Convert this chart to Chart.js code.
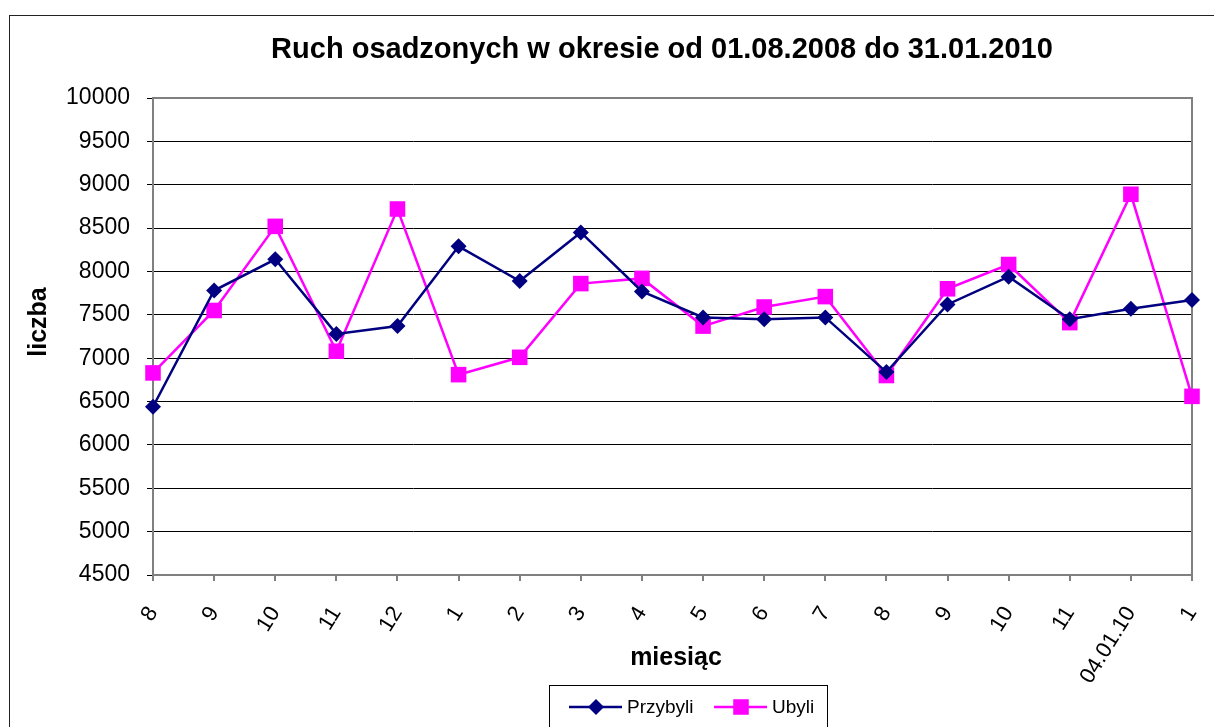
<!DOCTYPE html>
<html>
<head>
<meta charset="utf-8">
<script src="https://cdn.jsdelivr.net/npm/chart.js@4/dist/chart.umd.min.js"></script>
<style>
  body { margin: 0; background: #fff; }
  canvas { display: block; }
</style>
</head>
<body>
<canvas id="wykres" width="1214" height="727"></canvas>
<script>
// dane
const miesiace = ['8', '9', '10', '11', '12', '1', '2', '3', '4', '5', '6', '7', '8', '9', '10', '11', '04.01.10', '1'];
const przybyli = [6440, 7780, 8140, 7280, 7370, 8290, 7890, 8450, 7770, 7470, 7450, 7470, 6840, 7620, 7940, 7450, 7570, 7670];
const ubyli = [6830, 7550, 8520, 7080, 8720, 6810, 7010, 7860, 7920, 7370, 7590, 7710, 6800, 7800, 8080, 7410, 8890, 6560];
const yMin = 4500, yMax = 10000, yKrok = 500;

const tytul = 'Ruch osadzonych w okresie od 01.08.2008 do 31.01.2010';
const tytulY = 'liczba';
const tytulX = 'miesiąc';

const FONT = "'Liberation Sans', Arial, sans-serif";

// ramki, tytuly i legenda rysowane recznie (jak w Excelu)
const ozdoby = {
  id: 'ozdoby',
  beforeDraw(chart) {
    const ctx = chart.ctx;
    ctx.save();
    ctx.fillStyle = '#fff';
    ctx.fillRect(0, 0, chart.width, chart.height);
    ctx.strokeStyle = '#222';
    ctx.lineWidth = 1;
    ctx.strokeRect(9.5, 15.5, chart.width + 20, chart.height + 20);
    ctx.restore();
  },
  beforeDatasetsDraw(chart) {
    const ctx = chart.ctx;
    const { left, top, right, bottom } = chart.chartArea;
    ctx.save();
    ctx.strokeStyle = '#808080';
    ctx.lineWidth = 2;
    ctx.strokeRect(left, top, right - left, bottom - top);
    ctx.restore();
  },
  afterDraw(chart) {
    const ctx = chart.ctx;
    ctx.save();
    ctx.fillStyle = '#000';
    ctx.textAlign = 'center';

    ctx.font = 'bold 29px ' + FONT;
    ctx.textBaseline = 'alphabetic';
    ctx.fillText(tytul, 662, 58);

    ctx.font = 'bold 25px ' + FONT;
    ctx.fillText(tytulX, 676, 665);

    ctx.save();
    ctx.translate(39, 322);
    ctx.rotate(-Math.PI / 2);
    ctx.textBaseline = 'middle';
    ctx.fillText(tytulY, 0, 0);
    ctx.restore();

    // legenda
    ctx.strokeStyle = '#000';
    ctx.lineWidth = 1;
    ctx.strokeRect(549.5, 685.5, 278, 60);
    ctx.font = '19px ' + FONT;
    ctx.textAlign = 'left';
    ctx.textBaseline = 'middle';
    const poz = [569, 714];
    chart.data.datasets.forEach((ds, i) => {
      const x = poz[i], y = 707;
      ctx.strokeStyle = ds.borderColor;
      ctx.lineWidth = ds.borderWidth;
      ctx.beginPath();
      ctx.moveTo(x, y);
      ctx.lineTo(x + 53, y);
      ctx.stroke();
      ctx.fillStyle = ds.pointBackgroundColor;
      Chart.helpers.drawPoint(ctx, {
        pointStyle: ds.pointStyle,
        radius: ds.pointRadius,
        borderWidth: 0,
        rotation: 0
      }, x + 27, y);
      ctx.fillStyle = '#000';
      ctx.fillText(ds.label, x + 58, y + 1);
    });
    ctx.restore();
  }
};

new Chart(document.getElementById('wykres'), {
  type: 'line',
  data: {
    labels: miesiace,
    datasets: [
      {
        label: 'Przybyli',
        data: przybyli,
        borderColor: '#000080',
        backgroundColor: '#000080',
        pointBackgroundColor: '#000080',
        pointBorderColor: '#000080',
        borderWidth: 2.5,
        pointStyle: 'rectRot',
        pointRadius: 8,
        pointBorderWidth: 0,
        tension: 0,
        clip: false
      },
      {
        label: 'Ubyli',
        data: ubyli,
        borderColor: '#ff00ff',
        backgroundColor: '#ff00ff',
        pointBackgroundColor: '#ff00ff',
        pointBorderColor: '#ff00ff',
        borderWidth: 2.5,
        pointStyle: 'rect',
        pointRadius: 11,
        pointBorderWidth: 0,
        tension: 0,
        clip: false
      }
    ]
  },
  options: {
    responsive: false,
    animation: false,
    layout: { padding: { left: 10, right: 22, top: 98, bottom: 0 } },
    plugins: {
      legend: { display: false },
      title: { display: false },
      tooltip: { enabled: false }
    },
    scales: {
      x: {
        offset: false,
        grid: {
          drawOnChartArea: false,
          drawTicks: true,
          tickLength: 6,
          color: '#808080',
          lineWidth: 2
        },
        border: { color: '#808080', width: 2 },
        ticks: {
          autoSkip: false,
          minRotation: 58,
          maxRotation: 58,
          padding: 21,
          color: '#000',
          font: { family: FONT, size: 22 }
        },
        afterFit(scale) {
          scale.height = 152;
          scale.paddingLeft = 0;
          scale.paddingRight = 0;
        }
      },
      y: {
        min: yMin,
        max: yMax,
        grid: {
          color: '#000',
          lineWidth: 1,
          tickLength: 6
        },
        border: { color: '#808080', width: 2 },
        ticks: {
          stepSize: yKrok,
          padding: 17,
          color: '#000',
          font: { family: FONT, size: 23 },
          callback: (v) => String(v)
        },
        afterFit(scale) { scale.width = 143; }
      }
    }
  },
  plugins: [ozdoby]
});
</script>
</body>
</html>
